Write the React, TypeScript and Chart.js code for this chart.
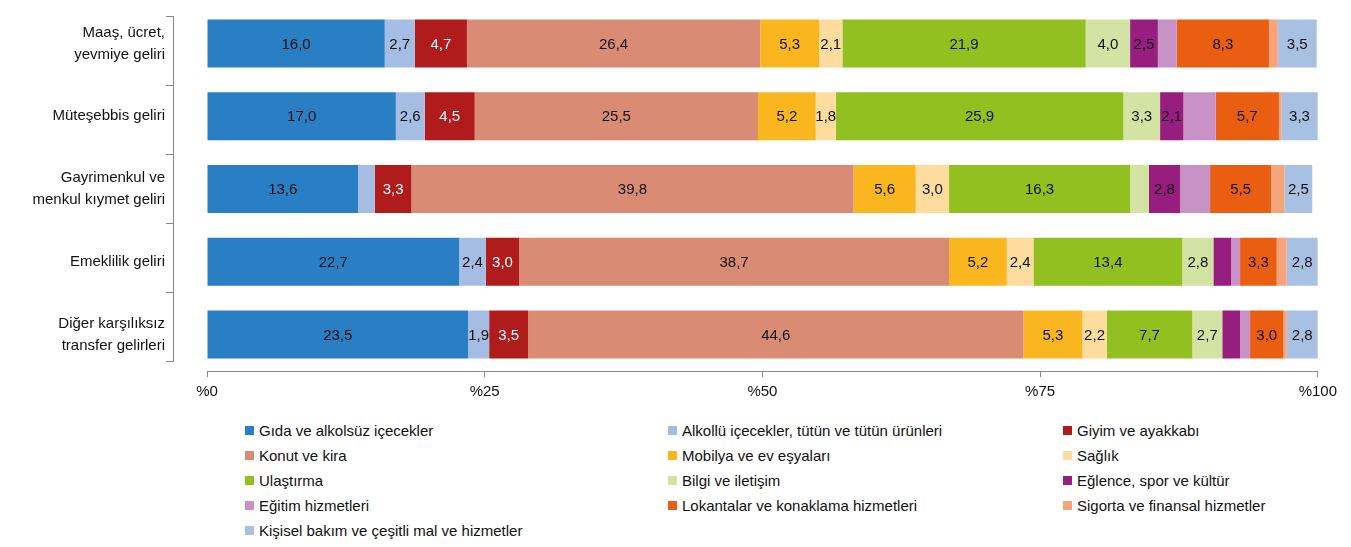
import React, { useEffect, useRef } from "react";
import { Chart, registerables } from "chart.js";
Chart.register(...registerables);

const categories = [["Maaş, ücret,", "yevmiye geliri"], ["Müteşebbis geliri"], ["Gayrimenkul ve", "menkul kıymet geliri"], ["Emeklilik geliri"], ["Diğer karşılıksız", "transfer gelirleri"]];
const seriesNames = ["Gıda ve alkolsüz içecekler", "Alkollü içecekler, tütün ve tütün ürünleri", "Giyim ve ayakkabı", "Konut ve kira", "Mobilya ve ev eşyaları", "Sağlık", "Ulaştırma", "Bilgi ve iletişim", "Eğlence, spor ve kültür", "Eğitim hizmetleri", "Lokantalar ve konaklama hizmetleri", "Sigorta ve finansal hizmetler", "Kişisel bakım ve çeşitli mal ve hizmetler"];
const colors = ["#2A7FC4", "#A5BDE3", "#B01B1B", "#D98B74", "#F9B61F", "#FDDC9E", "#92C020", "#D3E3A3", "#971D7F", "#C992C6", "#EA5E12", "#F6A47C", "#A8C0E2"];
const gida = [16.0, 17.0, 13.6, 22.7, 23.5];
const alkol = [2.7, 2.6, 1.5, 2.4, 1.9];
const giyim = [4.7, 4.5, 3.3, 3.0, 3.5];
const konut = [26.4, 25.5, 39.8, 38.7, 44.6];
const mobilya = [5.3, 5.2, 5.6, 5.2, 5.3];
const saglik = [2.1, 1.8, 3.0, 2.4, 2.2];
const ulastirma = [21.9, 25.9, 16.3, 13.4, 7.7];
const bilgi = [4.0, 3.3, 1.7, 2.8, 2.7];
const eglence = [2.5, 2.1, 2.8, 1.6, 1.6];
const egitim = [1.7, 2.9, 2.7, 0.8, 0.9];
const lokanta = [8.3, 5.7, 5.5, 3.3, 3.0];
const sigorta = [0.8, 0.2, 1.2, 0.9, 0.3];
const kisisel = [3.5, 3.3, 2.5, 2.8, 2.8];
const seriesValues = [gida, alkol, giyim, konut, mobilya, saglik, ulastirma, bilgi, eglence, egitim, lokanta, sigorta, kisisel];
const unlabeledSeries = [9, 11];
const xTicks = [0, 25, 50, 75, 100];

const FONT = "'Liberation Sans', Arial, sans-serif";

const overlay = {
  id: "overlay",
  afterDatasetsDraw(chart: any) {
    const ctx = chart.ctx;
    const ca = chart.chartArea;
    ctx.save();
    // value labels
    ctx.font = "15px " + FONT;
    ctx.textAlign = "center";
    ctx.textBaseline = "middle";
    chart.data.datasets.forEach((ds: any, di: number) => {
      if (unlabeledSeries.includes(di)) return;
      const meta = chart.getDatasetMeta(di);
      meta.data.forEach((bar: any, i: number) => {
        const v = ds.data[i];
        if (v < 1.8) return;
        const cx = (bar.x + bar.base) / 2;
        ctx.fillStyle = di === 2 ? "#ffffff" : "#111111";
        ctx.fillText(v.toFixed(1).replace(".", ","), cx, bar.y + 1);
      });
    });
    // y bracket
    const ax = ca.left - 34;
    const top = ca.top + 9;
    const bot = ca.bottom - 10;
    ctx.strokeStyle = "#888";
    ctx.lineWidth = 1;
    ctx.beginPath();
    ctx.moveTo(ax + 0.5, top);
    ctx.lineTo(ax + 0.5, bot);
    const n = categories.length;
    for (let k = 0; k <= n; k++) {
      const y = Math.round(top + ((bot - top) * k) / n) + 0.5;
      ctx.moveTo(ax - 7, y);
      ctx.lineTo(ax + 0.5, y);
    }
    ctx.stroke();
    // category labels
    ctx.fillStyle = "#111";
    ctx.textAlign = "right";
    const ys = chart.scales.y;
    categories.forEach((lines, i) => {
      const cy = ys.getPixelForValue(i);
      const lh = 22;
      lines.forEach((t, j) => {
        ctx.fillText(t, ca.left - 42, cy + (j - (lines.length - 1) / 2) * lh);
      });
    });
    ctx.restore();
  },
};

export default function App() {
  const ref = useRef<HTMLCanvasElement>(null);
  useEffect(() => {
    const chart = new Chart(ref.current!, {
      type: "bar",
      data: {
        labels: categories.map((c) => c.join(" ")),
        datasets: seriesValues.map((d, i) => ({
          label: seriesNames[i],
          data: d,
          backgroundColor: colors[i],
          borderWidth: 0,
          barPercentage: 0.66,
          categoryPercentage: 1,
        })),
      },
      options: {
        indexAxis: "y",
        animation: false,
        responsive: false,
        layout: { padding: { top: 0, right: 10, left: 0, bottom: 0 } },
        plugins: { legend: { display: false }, tooltip: { enabled: false } },
        scales: {
          x: {
            stacked: true,
            min: 0,
            max: 100,
            afterBuildTicks: (s: any) => { s.ticks = xTicks.map((v) => ({ value: v })); },
            ticks: { callback: (v: any) => "%" + v, font: { family: FONT, size: 15 }, color: "#111", padding: 6 },
            grid: { drawOnChartArea: false, color: "#888", tickLength: 6 },
            border: { color: "#888" },
          },
          y: {
            stacked: true,
            ticks: { display: false },
            grid: { display: false },
            border: { display: false },
            afterFit: (s: any) => { s.width = 199; },
          },
        },
      },
      plugins: [overlay],
    } as any);
    return () => chart.destroy();
  }, []);
  return (
    <div style={{ position: "relative", width: 1335, height: 531, fontFamily: FONT }}>
      <canvas ref={ref} width={1335} height={400} style={{ position: "absolute", left: 0, top: -1 }} />
      {seriesNames.map((n, i) => (
        <div key={n} style={{ position: "absolute", left: [237, 660, 1055][i % 3], top: 414 + Math.floor(i / 3) * 25, fontSize: 15, color: "#111", display: "flex", alignItems: "center", whiteSpace: "nowrap" }}>
          <span style={{ display: "inline-block", width: 9, height: 9, background: colors[i], marginRight: 5 }} />
          {n}
        </div>
      ))}
    </div>
  );
}
